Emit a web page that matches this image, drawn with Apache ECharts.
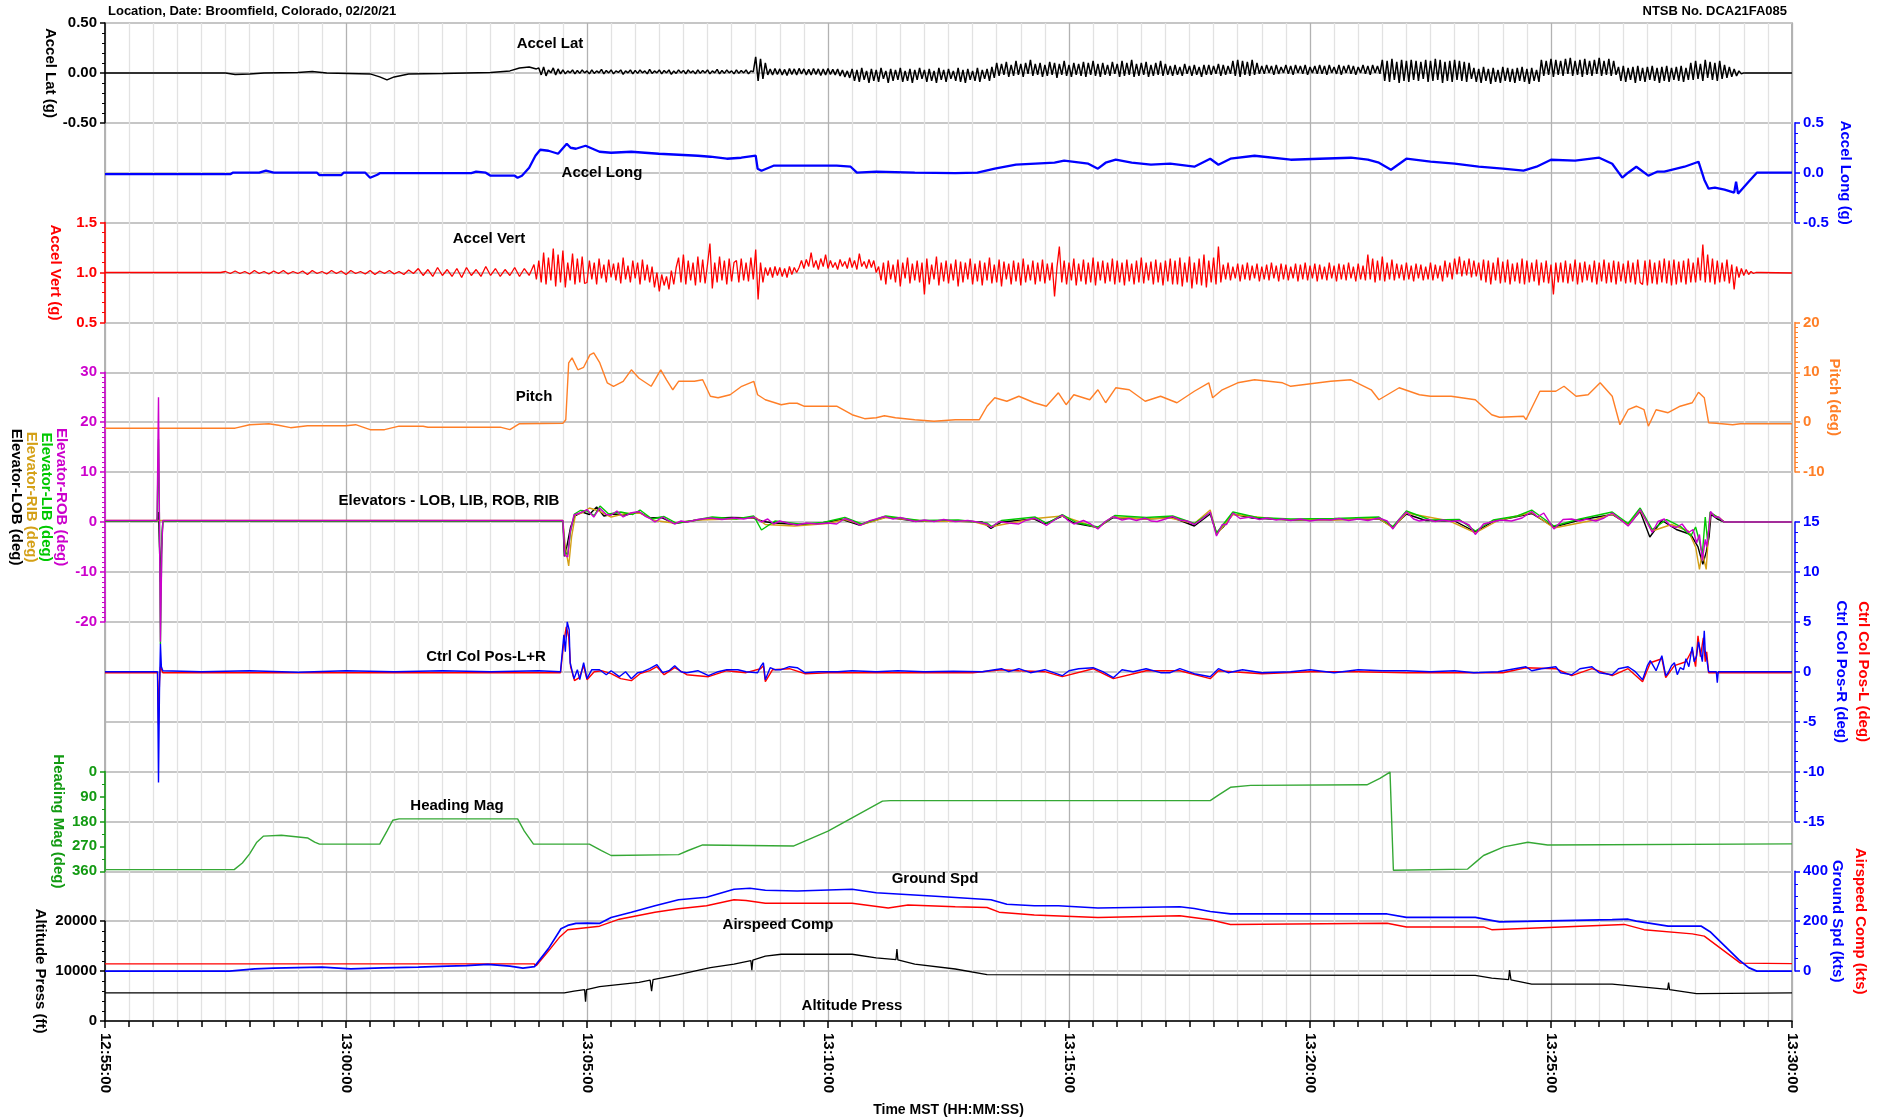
<!DOCTYPE html>
<html>
<head>
<meta charset="utf-8">
<script src="https://cdn.jsdelivr.net/npm/echarts@6/dist/echarts.min.js"></script>
<style>
html,body{margin:0;padding:0;background:#fff;}
#chart{width:1889px;height:1120px;}
</style>
</head>
<body>
<div id="chart"></div>
<script>
// time in minutes after 12:55:00
var timeTicks = ['12:55:00','13:00:00','13:05:00','13:10:00','13:15:00','13:20:00','13:25:00','13:30:00'];

// Accel Lat (g)
var latCalm = [[0,0],[2.5,0],[2.7,-0.015],[3.0,-0.01],[3.3,0.0],[4.0,0.005],[4.3,0.015],[4.6,0.0],[5.5,-0.01],[5.7,-0.04],[5.85,-0.07],[6.0,-0.04],[6.3,-0.01],[7.0,-0.005],[8.0,0.005],[8.4,0.02],[8.6,0.05],[8.8,0.06],[8.95,0.04]];
var latNoiseStart = 9.0, latNoiseStep = 0.05;
var latNoise = [0.05,-0.02,0.06,-0.03,0.03,0.0,0.05,-0.02,0.04,-0.01,
0.03,-0.01,0.02,0.0,0.03,-0.01,0.025,-0.005,0.03,0.0,
0.02,-0.01,0.03,-0.005,0.02,0.0,0.035,-0.01,0.025,0.0,
0.03,-0.01,0.02,0.005,0.03,-0.015,0.02,0.0,0.03,-0.01,
0.025,-0.005,0.03,0.0,0.02,-0.01,0.035,-0.005,0.02,0.0,
0.03,-0.01,0.025,0.0,0.03,-0.015,0.02,-0.005,0.03,0.0,
0.025,-0.01,0.03,0.0,0.02,-0.01,0.03,-0.005,0.025,0.0,
0.03,-0.01,0.02,0.0,0.035,-0.01,0.025,-0.005,0.03,0.0,
0.02,-0.01,0.03,-0.005,0.025,0.0,0.03,-0.01,0.02,0.01,
0.16,-0.08,0.14,-0.06,0.1,
-0.02,0.04,-0.02,0.045,-0.015,0.04,-0.02,0.035,-0.025,0.045,
-0.015,0.04,-0.02,0.045,-0.01,0.04,-0.02,0.035,-0.02,0.045,
-0.015,0.04,-0.025,0.04,-0.02,0.045,-0.015,0.035,-0.02,0.04,
-0.03,0.03,-0.04,0.02,-0.05,
0.04,-0.08,0.03,-0.09,0.05,-0.07,0.02,-0.1,0.04,-0.08,
0.03,-0.09,0.05,-0.06,0.02,-0.1,0.04,-0.08,0.03,-0.07,
0.05,-0.09,0.02,-0.08,0.04,-0.1,0.03,-0.07,0.05,-0.06,
0.03,-0.09,0.04,-0.08,0.02,-0.1,0.05,-0.07,0.03,-0.09,
0.04,-0.06,0.02,-0.08,0.05,-0.09,0.03,-0.1,0.04,-0.07,
0.02,-0.08,0.05,-0.09,0.03,-0.06,0.04,-0.08,0.06,-0.05,
0.1,-0.03,0.09,-0.02,0.11,-0.04,0.08,-0.03,0.12,-0.02,
0.09,-0.04,0.1,-0.01,0.13,-0.03,0.09,-0.02,0.1,-0.04,
0.08,-0.03,0.11,-0.02,0.1,-0.05,0.09,-0.02,0.12,-0.03,
0.08,-0.04,0.1,-0.02,0.09,-0.03,0.11,-0.04,0.1,-0.02,
0.12,-0.03,0.09,-0.04,0.1,-0.02,0.08,-0.03,0.11,-0.01,
0.09,-0.04,0.12,-0.03,0.1,-0.02,0.13,-0.04,0.09,-0.03,
0.1,-0.02,0.11,-0.04,0.08,-0.03,0.1,-0.02,0.12,-0.03,
0.09,-0.02,
0.07,-0.03,0.08,-0.02,0.06,-0.03,0.09,-0.01,0.07,-0.03,0.08,-0.02,0.06,-0.04,0.08,-0.02,
0.08,-0.02,0.07,-0.01,0.09,-0.03,0.08,-0.02,0.07,-0.01,
0.12,-0.03,0.13,-0.04,0.12,-0.02,0.11,-0.03,0.13,-0.02,0.1,-0.01,
0.07,-0.01,0.08,0.0,0.07,-0.02,0.08,-0.01,0.06,0.0,
0.08,-0.01,0.07,-0.02,0.08,0.0,0.07,-0.01,0.08,-0.02,
0.06,0.0,0.07,-0.01,0.08,-0.01,0.07,-0.02,0.08,0.0,
0.06,-0.01,0.08,-0.02,0.07,0.0,0.08,-0.01,0.07,-0.02,
0.06,0.0,0.08,-0.01,0.07,-0.02,0.08,0.0,0.07,-0.01,
0.13,-0.08,0.12,-0.09,0.14,-0.07,0.11,-0.1,0.13,-0.08,
0.12,-0.09,0.13,-0.07,0.12,-0.08,0.11,-0.06,0.13,-0.09,
0.12,-0.08,0.14,-0.07,0.13,-0.1,0.11,-0.08,0.12,-0.09,
0.13,-0.07,0.12,-0.08,0.11,-0.09,0.1,-0.06,
0.05,-0.09,0.04,-0.1,0.06,-0.08,0.04,-0.11,0.05,-0.09,
0.03,-0.1,0.06,-0.08,0.05,-0.09,0.04,-0.1,0.05,-0.08,
0.06,-0.09,0.04,-0.11,0.05,-0.08,0.03,-0.09,
0.13,-0.03,0.12,-0.02,0.14,-0.04,0.13,-0.02,0.12,-0.03,
0.14,-0.01,0.15,-0.03,0.12,-0.02,0.13,-0.04,0.14,-0.02,
0.12,-0.03,0.13,-0.01,0.15,-0.03,0.12,-0.02,0.14,-0.03,
0.12,-0.02,
0.06,-0.08,0.07,-0.09,0.05,-0.07,0.06,-0.1,0.07,-0.08,
0.05,-0.09,0.06,-0.07,0.07,-0.08,0.05,-0.1,0.06,-0.08,
0.07,-0.09,0.05,-0.07,0.06,-0.08,0.07,-0.09,0.05,-0.07,
0.1,-0.07,0.12,-0.06,0.09,-0.08,0.13,-0.05,0.11,-0.07,0.1,-0.08,0.12,-0.06,0.08,-0.05,0.06,-0.04,0.04,-0.03,
0.02,-0.01,0.0];
var latTail = [[34.1,0],[35,0]];

// Accel Long (g)
var longData = [[0,-0.015],[2.6,-0.015],[2.65,0.0],[3.2,0.0],[3.34,0.02],[3.5,0.0],[4.4,0.0],[4.45,-0.025],[4.9,-0.025],[4.95,0.0],[5.4,0.0],[5.5,-0.05],[5.65,-0.02],[5.7,-0.005],[7.6,-0.005],[7.7,0.01],[7.9,0.0],[8.0,-0.03],[8.5,-0.03],[8.56,-0.05],[8.65,-0.03],[8.8,0.05],[8.93,0.17],[9.03,0.23],[9.2,0.22],[9.4,0.19],[9.58,0.29],[9.66,0.25],[9.77,0.24],[9.97,0.27],[10.26,0.21],[10.5,0.2],[10.92,0.21],[11.2,0.2],[11.49,0.19],[11.9,0.18],[12.3,0.17],[12.56,0.16],[12.9,0.14],[13.2,0.15],[13.5,0.17],[13.54,0.04],[13.62,0.02],[13.87,0.07],[14.5,0.07],[15.18,0.07],[15.47,0.06],[15.6,0.0],[16.0,0.01],[16.8,0.0],[17.64,-0.005],[18.1,0.0],[18.46,0.04],[18.9,0.08],[19.3,0.09],[19.7,0.1],[19.9,0.12],[20.4,0.09],[20.6,0.04],[20.76,0.1],[20.97,0.13],[21.3,0.1],[21.7,0.08],[22.1,0.09],[22.6,0.06],[22.93,0.14],[23.1,0.08],[23.35,0.14],[23.85,0.17],[24.6,0.13],[25.2,0.14],[25.85,0.15],[26.2,0.13],[26.43,0.1],[26.68,0.03],[27.0,0.14],[27.5,0.11],[28.0,0.09],[28.5,0.06],[29.0,0.04],[29.43,0.02],[29.7,0.06],[30.0,0.13],[30.5,0.12],[31.0,0.15],[31.27,0.09],[31.48,-0.05],[31.6,0.0],[31.77,0.06],[32.02,-0.03],[32.2,0.01],[32.35,0.01],[32.77,0.06],[33.06,0.11],[33.18,-0.07],[33.27,-0.16],[33.4,-0.15],[33.6,-0.17],[33.8,-0.2],[33.84,-0.09],[33.88,-0.21],[33.9,-0.2],[34.1,-0.09],[34.27,0.0],[35,0.0]];

// Accel Vert (g)
var vertCalm = [[0,1.0],[2.4,1.0]];
var vertEarlyStart = 2.5, vertEarlyStep = 0.1;
var vertEarly = [1.01,0.99,1.015,0.99,1.01,0.985,1.02,0.99,1.01,0.985,
1.015,0.99,1.02,0.985,1.01,0.99,1.015,0.98,1.02,0.99,
1.01,0.985,1.02,0.99,1.015,0.98,1.02,0.99,1.01,0.985,
1.02,0.98,1.015,0.99,1.02,0.985,1.01,0.98,1.025,0.99,
1.04,0.97,1.03,0.96,1.05,0.97,1.03,0.96,1.04,0.95,
1.05,0.97,1.03,0.96,1.06,0.97,1.04,0.96,1.03,0.97,
1.05,0.96,1.04,0.97];
var vertNoiseStart = 8.9, vertNoiseStep = 0.05;
var vertNoise = [1.08,0.93,1.12,0.9,1.2,0.88,1.15,0.92,1.24,0.86,1.18,0.9,1.22,0.85,1.1,0.92,1.19,0.88,1.14,0.9,1.16,0.89,
0.9,1.12,0.93,1.1,0.88,1.14,0.94,1.08,0.9,1.13,0.95,1.09,0.92,1.1,0.89,1.15,0.93,1.07,0.9,1.12,0.94,1.1,0.88,1.13,0.92,1.08,0.9,1.06,
0.85,1.0,0.81,0.98,0.87,0.96,0.83,1.02,0.88,1.05,
1.15,0.9,1.18,0.88,1.12,0.92,1.1,0.87,1.16,0.9,1.13,0.89,1.08,1.29,0.84,1.1,0.9,1.16,0.92,1.12,0.88,1.14,0.91,1.1,
1.12,0.9,1.14,0.92,1.1,0.91,1.15,0.93,
1.23,0.73,1.1,0.9,1.05,
0.97,1.05,0.95,1.06,0.97,1.05,0.96,1.04,0.95,1.06,0.98,1.05,1.0,
1.05,1.12,1.04,1.13,1.06,1.2,1.05,1.12,1.03,1.14,1.06,1.18,1.04,1.12,1.05,1.1,1.03,1.13,1.06,1.11,1.04,1.15,1.05,1.12,1.03,1.19,1.06,1.11,1.04,1.13,1.05,1.12,1.0,1.06,
0.92,1.1,0.88,1.12,0.93,1.08,0.9,1.13,0.86,1.1,
0.94,1.15,0.89,1.09,0.92,1.12,0.9,1.1,0.78,1.14,
0.88,1.08,0.93,1.16,0.87,1.1,0.91,1.12,0.89,1.09,
0.92,1.13,0.86,1.11,0.9,1.1,0.93,1.14,0.88,1.09,
0.91,1.12,0.87,1.1,0.92,1.15,0.89,1.08,0.9,1.13,
0.86,1.11,0.93,1.09,0.88,1.12,0.91,1.1,0.87,1.14,
0.9,1.08,0.92,1.12,0.88,1.1,0.91,1.13,0.89,1.09,
0.92,1.1,0.76,1.05,
1.26,0.9,1.12,0.88,1.1,0.92,1.14,0.87,1.09,0.91,
1.13,0.88,1.1,0.9,1.15,0.87,1.11,0.92,1.12,0.89,
1.1,0.91,1.14,0.88,1.12,0.9,1.1,0.87,1.13,0.91,
1.09,0.88,1.12,0.9,1.15,0.89,1.1,0.92,1.11,0.88,
1.13,0.9,1.1,0.87,1.12,0.91,1.14,0.88,
1.12,0.88,1.15,0.86,1.1,0.9,1.16,0.84,1.1,0.88,1.14,0.87,1.18,0.85,1.12,0.9,1.15,0.88,1.26,0.9,
1.08,0.93,1.1,0.92,1.06,0.94,1.09,0.91,1.08,0.93,
1.1,0.92,1.07,0.94,1.09,0.91,1.06,0.93,1.08,0.92,
1.1,0.94,1.07,0.91,1.09,0.93,1.08,0.92,1.06,0.94,
1.09,0.91,1.08,0.93,1.1,0.92,1.07,0.94,1.09,0.91,
1.08,0.93,1.06,0.92,1.1,0.94,1.07,0.91,1.09,0.93,
1.08,0.92,1.1,0.94,1.06,0.91,1.09,0.93,1.07,0.92,
1.18,0.93,1.14,0.9,1.12,0.92,1.16,0.91,1.1,0.93,1.13,0.92,1.09,0.94,
1.08,0.92,1.1,0.93,1.07,0.91,1.09,0.94,1.08,0.92,
1.06,0.93,1.1,0.92,1.08,0.94,1.07,0.91,1.12,0.95,
1.1,0.93,1.14,0.98,1.16,0.96,1.12,0.97,1.14,0.95,
1.12,0.96,1.1,0.92,1.13,0.9,
1.12,0.88,1.1,0.92,1.15,0.89,1.11,0.9,1.13,0.88,
1.09,0.91,1.1,0.89,1.14,0.88,1.12,0.9,1.1,0.91,
1.13,0.87,1.1,0.9,1.12,0.89,1.08,0.78,1.1,0.9,
1.1,0.9,1.12,0.89,1.09,0.91,1.13,0.88,1.1,0.9,
1.11,0.92,1.08,0.9,1.12,0.88,1.1,0.91,1.13,0.89,
1.1,0.9,1.12,0.88,1.11,0.91,1.09,0.89,1.12,0.9,
1.1,0.88,1.13,0.9,
0.88,1.12,0.87,1.13,0.89,1.1,0.88,1.12,0.9,1.14,
0.89,1.12,0.87,1.13,0.88,1.11,0.9,1.12,0.88,1.14,0.9,1.1,
0.9,1.15,0.92,1.28,0.9,1.18,
0.9,1.14,0.88,1.12,0.9,1.1,0.91,1.13,0.89,1.08,0.83,1.06,
0.95,1.04,0.97,1.03,0.98,1.01,0.99,1.0,1.0];
var vertTail = [[34.35,1.0],[35,0.995]];

// Pitch (deg)
var pitchData = [[0,-1.2],[2.7,-1.2],[3.0,-0.5],[3.4,-0.3],[3.6,-0.6],[3.85,-1.1],[4.2,-0.7],[5.0,-0.7],[5.2,-0.5],[5.5,-1.5],[5.8,-1.5],[6.1,-0.8],[6.6,-0.8],[6.7,-1.0],[8.2,-1.0],[8.4,-1.5],[8.6,-0.3],[9.5,-0.2],[9.56,0.5],[9.62,11.9],[9.69,12.9],[9.81,10.5],[9.93,11],[10.06,13.5],[10.14,13.9],[10.26,12],[10.42,7.9],[10.55,7.2],[10.75,8.2],[10.92,10.5],[11.08,8.8],[11.33,7.2],[11.53,10.5],[11.65,8.5],[11.78,6.5],[11.9,8.2],[12.23,8.2],[12.4,8.5],[12.56,5.2],[12.72,4.9],[12.97,5.5],[13.21,7.2],[13.46,8.2],[13.54,5.5],[13.7,4.5],[14.03,3.5],[14.2,3.8],[14.36,3.8],[14.5,3.2],[15.18,3.2],[15.5,1.5],[15.76,0.7],[16.0,0.9],[16.17,1.3],[16.4,0.9],[16.8,0.5],[17.2,0.2],[17.64,0.5],[18.14,0.5],[18.3,3.2],[18.46,4.9],[18.71,4.2],[18.96,5.2],[19.28,3.9],[19.53,3.2],[19.78,5.9],[19.94,3.5],[20.1,5.5],[20.43,4.5],[20.6,6.5],[20.76,3.9],[20.97,6.9],[21.25,6.5],[21.58,4.2],[21.9,5.2],[22.24,3.9],[22.6,6.2],[22.9,7.9],[22.98,4.9],[23.18,6.5],[23.5,7.9],[23.85,8.5],[24.43,7.9],[24.6,7.2],[25.43,8.2],[25.85,8.5],[26.27,6.5],[26.43,4.5],[26.85,6.9],[27.27,5.5],[27.5,5.2],[27.93,5.2],[28.43,4.5],[28.77,1.5],[28.93,1.0],[29.43,1.2],[29.48,0.5],[29.77,6.2],[30.1,6.2],[30.27,7.2],[30.52,5.2],[30.77,5.5],[31.02,7.9],[31.27,5.2],[31.43,-0.5],[31.6,2.5],[31.77,3.2],[31.93,2.5],[32.02,-0.8],[32.18,2.5],[32.43,1.9],[32.68,3.2],[32.93,3.9],[33.06,6.0],[33.18,4.9],[33.27,-0.1],[33.43,-0.2],[33.77,-0.5],[33.93,-0.3],[35,-0.3]];

// Elevators (deg)
var elevLOB = [[0,0.2],[1.08,0.2],[1.11,2],[1.13,-5],[1.15,-12],[1.17,-6],[1.2,0.2],[9.5,0.2],[9.53,-6.9],[9.58,-5],[9.66,-1],[9.75,1.2],[9.9,2.0],[10.05,1.5],[10.2,3.0],[10.35,1.2],[10.55,1.6],[10.8,1.4],[11.08,2.0],[11.3,0.8],[11.55,0.9],[11.8,-0.3],[12.1,0.1],[12.5,0.7],[13.0,0.9],[13.45,0.8],[13.65,0.1],[13.9,-0.2],[14.36,-0.5],[14.8,-0.3],[15.3,0.5],[15.65,-0.6],[16.2,1.0],[16.8,0.2],[17.6,0.2],[18.2,0.0],[18.38,-1.3],[18.6,0.0],[19.28,0.6],[19.5,-0.4],[19.86,1.2],[20.1,-0.2],[20.6,-1.1],[20.92,0.9],[21.6,0.6],[22.15,0.9],[22.6,-0.8],[22.93,1.6],[23.06,-2.2],[23.2,-1.0],[23.4,1.6],[23.8,0.8],[24.6,0.4],[25.5,0.5],[26.43,0.6],[26.72,-1.0],[27.0,1.6],[27.4,0.3],[28.0,0.2],[28.43,-2.0],[28.8,0.1],[29.6,1.7],[30.06,-1.0],[30.6,0.4],[31.27,1.5],[31.6,-0.5],[31.85,2.1],[32.05,-3.0],[32.3,0.3],[32.6,-1.5],[32.9,-2.5],[33.05,-5],[33.15,-8.5],[33.22,-6],[33.28,-3],[33.32,1.5],[33.45,0.6],[33.6,0.0],[35,0.0]];
var elevRIB = [[0,0.3],[1.2,0.3],[9.5,0.3],[9.55,-5],[9.62,-8.8],[9.68,-3],[9.76,1.5],[9.9,1.8],[10.05,2.8],[10.25,2.2],[10.5,1.0],[10.8,1.7],[11.1,1.8],[11.4,0.3],[11.8,-0.2],[12.3,0.4],[13.0,0.6],[13.5,0.9],[13.7,-0.5],[14.3,-0.8],[15.0,-0.3],[15.35,0.5],[15.7,-0.5],[16.2,0.9],[17.0,0.2],[18.0,0.1],[18.4,-0.9],[19.3,0.7],[19.86,1.2],[20.6,-1.2],[20.9,1.0],[21.6,0.6],[22.1,0.8],[22.6,-0.3],[22.93,2.4],[23.06,-2.5],[23.4,1.5],[24.4,0.5],[25.5,0.4],[26.43,0.7],[26.72,-1.2],[27.0,1.8],[27.9,0.2],[28.43,-2.2],[28.9,0.3],[29.6,1.9],[30.06,-1.2],[30.9,0.4],[31.27,1.6],[31.6,-0.6],[31.85,2.3],[32.1,-1.8],[32.5,-0.5],[32.85,-1.8],[33.0,-5],[33.08,-9.5],[33.14,-6],[33.22,-9.5],[33.27,-2],[33.31,1.8],[33.5,0.8],[33.6,0.0],[35,0.0]];
var elevLIB = [[0,0.2],[1.08,0.2],[1.11,16.6],[1.13,0],[1.15,-24.5],[1.18,-3],[1.2,0.2],[9.5,0.2],[9.54,-6],[9.6,-6.5],[9.66,-1.8],[9.74,1.6],[9.86,2.3],[10.0,2.2],[10.15,1.3],[10.27,3.2],[10.45,1.6],[10.7,2.0],[10.95,1.5],[11.1,2.4],[11.35,0.6],[11.6,1.1],[11.85,-0.2],[12.2,0.3],[12.6,1.0],[13.1,0.6],[13.46,1.2],[13.62,-1.6],[13.9,0.2],[14.4,-0.4],[14.9,-0.1],[15.35,0.9],[15.7,-0.4],[16.2,1.2],[16.9,0.3],[17.7,0.4],[18.3,-0.2],[18.4,-0.9],[18.6,0.3],[19.3,1.0],[19.55,-0.3],[19.86,1.5],[20.15,-0.1],[20.6,-1.0],[20.95,1.3],[21.6,0.9],[22.15,1.2],[22.6,-0.3],[22.93,1.9],[23.06,-2.2],[23.4,2.0],[23.9,0.9],[24.6,0.6],[25.5,0.7],[26.43,1.0],[26.72,-0.9],[27.0,2.2],[27.5,0.4],[28.1,0.5],[28.43,-1.8],[28.8,0.4],[29.3,1.2],[29.6,2.4],[30.06,-0.8],[30.6,0.6],[31.27,2.0],[31.6,-0.3],[31.85,2.8],[32.1,-1.5],[32.4,0.5],[32.7,-1.0],[32.9,-2.8],[33.0,-1.0],[33.07,-3.5],[33.14,-6.5],[33.2,1.0],[33.25,-4.0],[33.3,2.0],[33.45,1.0],[33.6,0.0],[35,0.0]];
var elevROB = [[0,0.3],[1.08,0.3],[1.11,25],[1.13,0],[1.15,-24],[1.18,-5],[1.2,0.3],[9.5,0.3],[9.54,-6.7],[9.6,-7],[9.65,-2.1],[9.73,1.4],[9.85,1.8],[10.0,2.5],[10.14,1.0],[10.26,2.8],[10.4,1.5],[10.5,1.4],[10.62,2.2],[10.75,1.0],[10.9,1.8],[11.08,2.1],[11.2,1.2],[11.29,0.8],[11.41,0.0],[11.57,1.0],[11.7,0.2],[11.82,-0.4],[11.95,0.2],[12.07,0],[12.3,0.5],[12.56,0.8],[12.8,0.5],[13.05,0.8],[13.25,0.6],[13.46,1.0],[13.62,0],[13.75,0.6],[13.87,-0.4],[14.0,0.2],[14.2,-0.3],[14.36,-0.6],[14.55,-0.2],[14.77,-0.4],[15.0,-0.2],[15.18,-0.4],[15.35,0.7],[15.5,0.2],[15.67,-0.7],[15.85,0.2],[16.0,0.6],[16.17,1.1],[16.35,0.6],[16.5,0.9],[16.65,0.5],[16.82,0.1],[17.0,0.4],[17.2,0.1],[17.4,0.5],[17.64,0.1],[17.9,0.3],[18.1,0.0],[18.3,-0.4],[18.38,-1.1],[18.55,0.1],[18.75,-0.2],[18.96,-0.4],[19.1,0.3],[19.28,0.8],[19.4,0.2],[19.53,-0.7],[19.7,0.4],[19.86,1.4],[19.98,0.3],[20.1,-0.4],[20.3,0.3],[20.45,-0.4],[20.6,-1.4],[20.75,0.1],[20.92,1.1],[21.1,0.4],[21.25,0.7],[21.4,0.3],[21.58,0.8],[21.7,0.2],[21.83,0.1],[22.0,0.6],[22.15,1.1],[22.3,0.4],[22.45,0.2],[22.6,-0.5],[22.75,0.5],[22.93,2.0],[23.06,-2.8],[23.18,-0.5],[23.27,-0.5],[23.4,1.8],[23.55,0.7],[23.77,1.0],[23.95,0.5],[24.1,0.8],[24.3,0.4],[24.43,0.6],[24.6,0.3],[24.8,0.6],[25.0,0.2],[25.2,0.5],[25.43,0.4],[25.6,0.7],[25.8,0.3],[26.0,0.6],[26.2,0.3],[26.43,0.8],[26.6,0.2],[26.72,-1.4],[26.85,0.5],[27.0,2.0],[27.15,0.6],[27.27,0.2],[27.45,0.5],[27.6,0.1],[27.75,0.4],[27.93,0.1],[28.1,0.3],[28.3,-0.6],[28.43,-2.5],[28.6,-0.4],[28.77,0.0],[28.95,0.4],[29.18,0.2],[29.4,0.8],[29.6,2.1],[29.72,1.0],[29.85,1.8],[30.06,-1.4],[30.25,0.5],[30.43,0.6],[30.6,0.2],[30.75,0.6],[30.93,0.2],[31.1,0.8],[31.27,1.8],[31.45,0.4],[31.6,-0.8],[31.72,0.6],[31.85,2.5],[31.98,0.2],[32.1,-2.1],[32.22,0.1],[32.35,0.6],[32.48,-0.8],[32.6,-1.1],[32.72,-0.4],[32.85,-2.1],[32.95,-1.5],[33.02,-4.2],[33.08,-2.5],[33.14,-7.7],[33.2,-3.5],[33.23,-5.0],[33.28,-1.0],[33.31,2.1],[33.4,1.0],[33.48,1.0],[33.55,0.3],[33.6,0.0],[35,0.0]];

// Ctrl Col Pos (deg)
var colL = [[0,-0.1],[1.09,-0.1],[1.11,-5.3],[1.13,-1],[1.15,0.5],[1.2,-0.1],[9.45,-0.1],[9.52,3.0],[9.57,4.5],[9.62,3.5],[9.66,0.5],[9.74,-0.9],[9.84,-0.6],[9.93,0.6],[10.0,-0.8],[10.15,0.0],[10.3,0.1],[10.5,-0.2],[10.7,-0.7],[10.92,-0.9],[11.1,-0.2],[11.3,0.1],[11.45,0.5],[11.6,-0.3],[11.82,0.4],[12.07,-0.3],[12.52,-0.5],[12.9,0.1],[13.3,-0.1],[13.6,0.3],[13.66,0.6],[13.7,-1.0],[13.85,0.2],[14.2,0.3],[14.52,-0.2],[15.0,-0.1],[16.0,-0.1],[17.0,-0.1],[18.0,-0.1],[18.6,0.2],[18.96,0.1],[19.5,0.0],[19.86,-0.5],[20.5,0.3],[20.92,-0.7],[21.6,0.1],[22.3,0.1],[22.93,-0.7],[23.1,0.1],[24.0,-0.2],[25.0,0.0],[26.0,0.0],[27.0,-0.1],[28.0,-0.1],[29.0,-0.1],[29.48,0.4],[30.1,0.3],[30.43,-0.4],[30.85,0.3],[31.27,-0.4],[31.6,0.3],[31.9,-1.0],[32.06,0.9],[32.3,1.3],[32.38,-0.6],[32.56,0.6],[32.8,1.0],[32.93,2.2],[33.0,0.5],[33.05,3.6],[33.1,1.5],[33.16,3.4],[33.2,1.0],[33.23,2.0],[33.27,-0.1],[35,-0.1]];
var colR = [[0,0],[1.09,0],[1.11,-11.1],[1.13,-2],[1.15,2.8],[1.17,0.5],[1.2,0.1],[2.0,0.0],[3.0,0.1],[4.0,-0.05],[5.0,0.1],[6.0,0.0],[7.0,0.1],[8.0,0.0],[9.0,0.1],[9.45,0.0],[9.52,3.7],[9.55,2.0],[9.59,5.0],[9.63,4.2],[9.65,0.9],[9.73,-0.7],[9.8,0.2],[9.85,-0.8],[9.93,0.9],[10.0,-0.7],[10.1,0.2],[10.26,0.2],[10.4,-0.3],[10.5,0.1],[10.67,-0.5],[10.8,0.0],[10.92,-0.7],[11.05,-0.1],[11.16,0.0],[11.3,0.3],[11.45,0.7],[11.57,-0.1],[11.7,0.1],[11.82,0.6],[11.95,0.0],[12.07,-0.1],[12.3,0.1],[12.52,-0.4],[12.72,0.0],[12.9,0.2],[13.13,0.2],[13.3,0.0],[13.54,-0.1],[13.6,0.5],[13.66,0.9],[13.7,-0.8],[13.8,0.4],[13.9,0.2],[14.03,0.2],[14.2,0.5],[14.36,0.4],[14.52,-0.1],[14.8,0.0],[15.2,0.0],[15.5,0.1],[16.0,0.0],[16.45,0.1],[17.0,0.0],[17.6,0.05],[18.2,0.0],[18.46,0.2],[18.6,0.3],[18.75,0.0],[18.96,0.3],[19.2,-0.1],[19.5,0.2],[19.86,-0.4],[20.0,0.1],[20.2,0.3],[20.5,0.4],[20.7,0.0],[20.92,-0.6],[21.1,0.2],[21.33,0.0],[21.6,0.3],[21.9,-0.1],[22.1,-0.1],[22.3,0.3],[22.6,-0.2],[22.93,-0.5],[23.1,0.3],[23.3,-0.1],[23.6,0.2],[24.0,-0.1],[24.6,0.0],[25.0,0.2],[25.5,-0.1],[26.0,0.2],[26.5,0.1],[27.0,0.1],[27.5,0.0],[28.0,0.1],[28.4,-0.1],[28.9,0.0],[29.48,0.5],[29.6,0.1],[29.8,0.3],[30.1,0.5],[30.2,-0.1],[30.43,-0.3],[30.6,0.3],[30.85,0.5],[31.0,-0.1],[31.27,-0.3],[31.4,0.3],[31.6,0.5],[31.75,0.0],[31.9,-0.8],[32.0,0.6],[32.06,1.1],[32.18,0.1],[32.3,1.6],[32.38,-0.4],[32.43,-0.1],[32.5,0.6],[32.56,0.9],[32.62,-0.3],[32.68,0.4],[32.75,0.2],[32.8,1.3],[32.86,0.5],[32.93,2.5],[32.97,1.0],[33.02,1.6],[33.06,3.0],[33.1,3.2],[33.14,1.0],[33.18,4.1],[33.2,2.0],[33.23,1.3],[33.27,0.0],[33.43,0.0],[33.45,-1.1],[33.47,0.0],[35,0.0]];

// Heading Mag (deg)
var headingData = [[0,354],[2.68,354],[2.85,330],[3.0,297],[3.15,255],[3.29,233],[3.66,230],[4.21,240],[4.35,255],[4.45,262],[5.7,262],[5.85,215],[5.97,176],[6.1,171],[8.56,171],[8.7,215],[8.89,262],[10.05,262],[10.3,285],[10.5,303],[11.9,300],[12.1,285],[12.4,265],[14.28,269],[15.0,215],[16.13,107],[16.29,105],[22.93,105],[23.1,85],[23.35,57],[23.77,50],[26.18,48],[26.45,25],[26.66,2],[26.73,356],[28.27,352],[28.45,325],[28.6,303],[29.02,272],[29.52,255],[29.93,265],[35,261]];

// Ground Spd / Airspeed Comp (kts)
var groundSpd = [[0,0],[2.58,0],[3.11,9],[3.5,12],[4.0,14],[4.5,16],[5.1,9],[5.76,13],[6.5,16],[7.1,20],[7.5,22],[7.94,27],[8.4,20],[8.67,12],[8.91,18],[9.2,90],[9.46,170],[9.6,183],[9.77,191],[10.0,192],[10.26,191],[10.5,215],[10.92,236],[11.41,262],[11.9,286],[12.48,296],[13.05,328],[13.38,332],[13.7,324],[14.36,321],[15.5,328],[16.0,314],[17.23,300],[18.38,286],[18.71,268],[19.28,262],[19.78,262],[20.6,253],[22.3,258],[22.6,251],[22.93,239],[23.35,229],[26.6,229],[27.0,215],[28.43,215],[28.93,197],[31.27,206],[31.6,208],[31.77,200],[32.43,180],[33.12,180],[33.3,158],[33.9,45],[34.1,14],[34.27,0],[35,0]];
var airspeed = [[0,29],[8.9,29],[8.95,22],[9.2,80],[9.44,138],[9.6,166],[9.93,173],[10.26,180],[10.67,208],[11.41,236],[11.9,250],[12.48,262],[13.05,286],[13.3,283],[13.7,272],[15.5,272],[16.25,253],[16.66,265],[17.64,258],[18.3,255],[18.55,236],[19.28,225],[20.6,215],[22.3,222],[22.93,206],[23.35,187],[26.6,192],[27.0,177],[28.6,177],[28.77,166],[31.52,187],[31.93,166],[32.93,149],[33.18,140],[33.93,32],[35,30]];

// Altitude Press (ft)
var altitude = [[0,5620],[9.53,5620],[9.73,6000],[9.95,6300],[9.97,3870],[9.99,6300],[10.26,6900],[11.08,7740],[11.31,8200],[11.34,6000],[11.37,8300],[11.9,9290],[12.37,10300],[12.56,10700],[13.05,11400],[13.4,12100],[13.42,10200],[13.44,12200],[13.7,13000],[14.03,13380],[15.5,13380],[16.0,12670],[16.41,12320],[16.43,14400],[16.45,12250],[16.8,11400],[17.64,10420],[18.3,9290],[22.3,9200],[28.43,9150],[28.77,8590],[29.12,8300],[29.14,10200],[29.17,8250],[29.6,7390],[31.27,7390],[32.42,6340],[32.44,7700],[32.46,6300],[33.02,5490],[35,5630]];

var FONT = '"Liberation Sans", Arial, Helvetica, sans-serif';
var TOP = 23, STEP = 49.9, LEFT = 105, RIGHT = 97;

function stepped(start, step, vals){
  return vals.map(function(v, i){ return [+(start + i*step).toFixed(3), v]; });
}
function band(k0, k1){
  return {left: LEFT, right: RIGHT, top: TOP + STEP*k0, height: STEP*(k1 - k0), outerBoundsMode: 'none', containLabel: false};
}
function yAx(o){
  var only = !!o.nameOnly;
  return {
    type: 'value', gridIndex: o.grid, position: o.pos, offset: o.pos === 'right' ? 3 : 0,
    min: o.min, max: o.max, interval: o.interval, inverse: !!o.inverse,
    name: o.name, nameLocation: 'middle', nameRotate: -90, nameGap: o.gap, nameMoveOverlap: false,
    nameTextStyle: {color: o.color, fontFamily: FONT, fontWeight: 'bold', fontSize: 15},
    axisLine: {show: !only, onZero: false, lineStyle: {color: o.color, width: 1.5}},
    axisTick: {show: !only, length: 5, lineStyle: {color: o.color, width: 1.5}},
    minorTick: {show: !only && !!o.minor, splitNumber: o.minor || 5, length: 3, lineStyle: {color: o.color, width: 1}},
    axisLabel: {show: !only, color: o.color, fontFamily: FONT, fontWeight: 'bold', fontSize: 15, margin: 8,
      formatter: o.fmt || function(v){ return String(v); }},
    splitLine: {show: false}, minorSplitLine: {show: false}
  };
}
function line(grid, yIdx, data, color, width, clip){
  return {type: 'line', xAxisIndex: grid, yAxisIndex: yIdx, data: data, symbol: 'none', showSymbol: false,
    lineStyle: {color: color, width: width || 1.3}, itemStyle: {color: color},
    clip: clip !== false, animation: false, silent: true, z: 3};
}
function label(text, x, y){
  return {type: 'text', x: x, y: y, z: 10, style: {text: text, fill: '#000', font: 'bold 15px ' + FONT, align: 'center', verticalAlign: 'middle'}};
}

var BLACK = '#000000', BLUE = '#0000ff', RED = '#ff0000', ORANGE = '#ff7f27';
var MAGENTA = '#cc00cc', LGREEN = '#00c800', GOLD = '#d4a017', HGREEN = '#129a12', HLINE = '#35a835';

var grids = [
  {left: LEFT, right: RIGHT, top: TOP, height: STEP*20, show: true, borderColor: '#9c9c9c', borderWidth: 1.5, outerBoundsMode: 'none', containLabel: false},
  band(0, 2), band(2, 4), band(4, 6), band(6, 9), band(7, 12), band(10, 16), band(15, 17), band(17, 19), band(18, 20)
];

var xAxes = [{
  type: 'value', gridIndex: 0, min: 0, max: 35, interval: 5,
  name: 'Time MST (HH:MM:SS)', nameLocation: 'middle', nameGap: 82,
  nameTextStyle: {color: '#000', fontFamily: FONT, fontWeight: 'bold', fontSize: 14},
  axisLine: {show: true, onZero: false, lineStyle: {color: '#000', width: 1.5}},
  axisTick: {show: true, length: 7, lineStyle: {color: '#000', width: 1.5}},
  minorTick: {show: true, splitNumber: 10, length: 6, lineStyle: {color: '#000', width: 1.5}},
  axisLabel: {rotate: -90, margin: 12, color: '#000', fontFamily: FONT, fontWeight: 'bold', fontSize: 15,
    formatter: function(v){ return timeTicks[Math.round(v/5)]; }},
  splitLine: {show: true, lineStyle: {color: '#b2b2b2', width: 1.3}},
  minorSplitLine: {show: true, lineStyle: {color: '#e2e2e2', width: 1.3}}
}];
for (var g = 1; g < grids.length; g++) {
  xAxes.push({type: 'value', gridIndex: g, min: 0, max: 35, show: false});
}

var yAxes = [
  {type: 'value', gridIndex: 0, min: 0, max: 20, interval: 1, inverse: true,
   axisLine: {show: false}, axisTick: {show: false}, axisLabel: {show: false},
   splitLine: {show: true, lineStyle: {color: '#c6c6c6', width: 2}}},
  yAx({grid: 1, pos: 'left', min: -0.5, max: 0.5, interval: 0.5, color: BLACK, name: 'Accel Lat (g)', gap: 47, minor: 5, fmt: function(v){ return v.toFixed(2); }}),
  yAx({grid: 2, pos: 'right', min: -0.5, max: 0.5, interval: 0.5, color: BLUE, name: 'Accel Long (g)', gap: 43, minor: 5, fmt: function(v){ return v.toFixed(1); }}),
  yAx({grid: 3, pos: 'left', min: 0.5, max: 1.5, interval: 0.5, color: RED, name: 'Accel Vert (g)', gap: 42, minor: 5, fmt: function(v){ return v.toFixed(1); }}),
  yAx({grid: 4, pos: 'right', min: -10, max: 20, interval: 10, color: ORANGE, name: 'Pitch (deg)', gap: 32, minor: 10}),
  yAx({grid: 5, pos: 'left', min: -20, max: 30, interval: 10, color: MAGENTA, name: 'Elevator-ROB (deg)', gap: 36, minor: 10}),
  yAx({grid: 5, pos: 'left', min: -20, max: 30, interval: 10, color: LGREEN, name: 'Elevator-LIB (deg)', gap: 51, nameOnly: true}),
  yAx({grid: 5, pos: 'left', min: -20, max: 30, interval: 10, color: GOLD, name: 'Elevator-RIB (deg)', gap: 66, nameOnly: true}),
  yAx({grid: 5, pos: 'left', min: -20, max: 30, interval: 10, color: BLACK, name: 'Elevator-LOB (deg)', gap: 81, nameOnly: true}),
  yAx({grid: 6, pos: 'right', min: -15, max: 15, interval: 5, color: BLUE, name: 'Ctrl Col Pos-R (deg)', gap: 39, minor: 5}),
  yAx({grid: 6, pos: 'right', min: -15, max: 15, interval: 5, color: RED, name: 'Ctrl Col Pos-L (deg)', gap: 61, nameOnly: true}),
  yAx({grid: 7, pos: 'left', min: 0, max: 360, interval: 90, inverse: true, color: HGREEN, name: 'Heading Mag (deg)', gap: 39, minor: 2}),
  yAx({grid: 8, pos: 'right', min: 0, max: 400, interval: 200, color: BLUE, name: 'Ground Spd (kts)', gap: 35, minor: 4}),
  yAx({grid: 8, pos: 'right', min: 0, max: 400, interval: 200, color: RED, name: 'Airspeed Comp (kts)', gap: 58, nameOnly: true}),
  yAx({grid: 9, pos: 'left', min: 0, max: 20000, interval: 10000, color: BLACK, name: 'Altitude Press (ft)', gap: 57, minor: 5})
];

var series = [
  line(1, 1, latCalm.concat(stepped(latNoiseStart, latNoiseStep, latNoise), latTail), BLACK, 1.5),
  line(2, 2, longData, BLUE, 2.3),
  line(3, 3, vertCalm.concat(stepped(vertEarlyStart, vertEarlyStep, vertEarly), stepped(vertNoiseStart, vertNoiseStep, vertNoise), vertTail), RED, 1.3),
  line(4, 4, pitchData, ORANGE, 1.4),
  line(5, 5, elevLOB, BLACK, 1.4, false),
  line(5, 5, elevRIB, GOLD, 1.4, false),
  line(5, 5, elevLIB, LGREEN, 1.4, false),
  line(5, 5, elevROB, MAGENTA, 1.4, false),
  line(6, 9, colL, RED, 1.4),
  line(6, 9, colR, BLUE, 1.4),
  line(7, 11, headingData, HLINE, 1.4),
  line(8, 12, airspeed, RED, 1.4, false),
  line(8, 12, groundSpd, BLUE, 1.7, false),
  line(9, 14, altitude, BLACK, 1.3)
];

var chart = echarts.init(document.getElementById('chart'), null, {renderer: 'canvas'});
chart.setOption({
  backgroundColor: '#ffffff',
  animation: false,
  grid: grids,
  xAxis: xAxes,
  yAxis: yAxes,
  series: series,
  graphic: [
    {type: 'text', left: 108, top: 5, style: {text: 'Location, Date: Broomfield, Colorado, 02/20/21', fill: '#000', font: 'bold 13px ' + FONT}},
    {type: 'text', right: 102, top: 5, style: {text: 'NTSB No. DCA21FA085', fill: '#000', font: 'bold 13px ' + FONT}},
    label('Accel Lat', 550, 44),
    label('Accel Long', 602, 173),
    label('Accel Vert', 489, 239),
    label('Pitch', 534, 397),
    label('Elevators - LOB, LIB, ROB, RIB', 449, 501),
    label('Ctrl Col Pos-L+R', 486, 657),
    label('Heading Mag', 457, 806),
    label('Ground Spd', 935, 879),
    label('Airspeed Comp', 778, 925),
    label('Altitude Press', 852, 1006)
  ]
});
</script>
</body>
</html>
